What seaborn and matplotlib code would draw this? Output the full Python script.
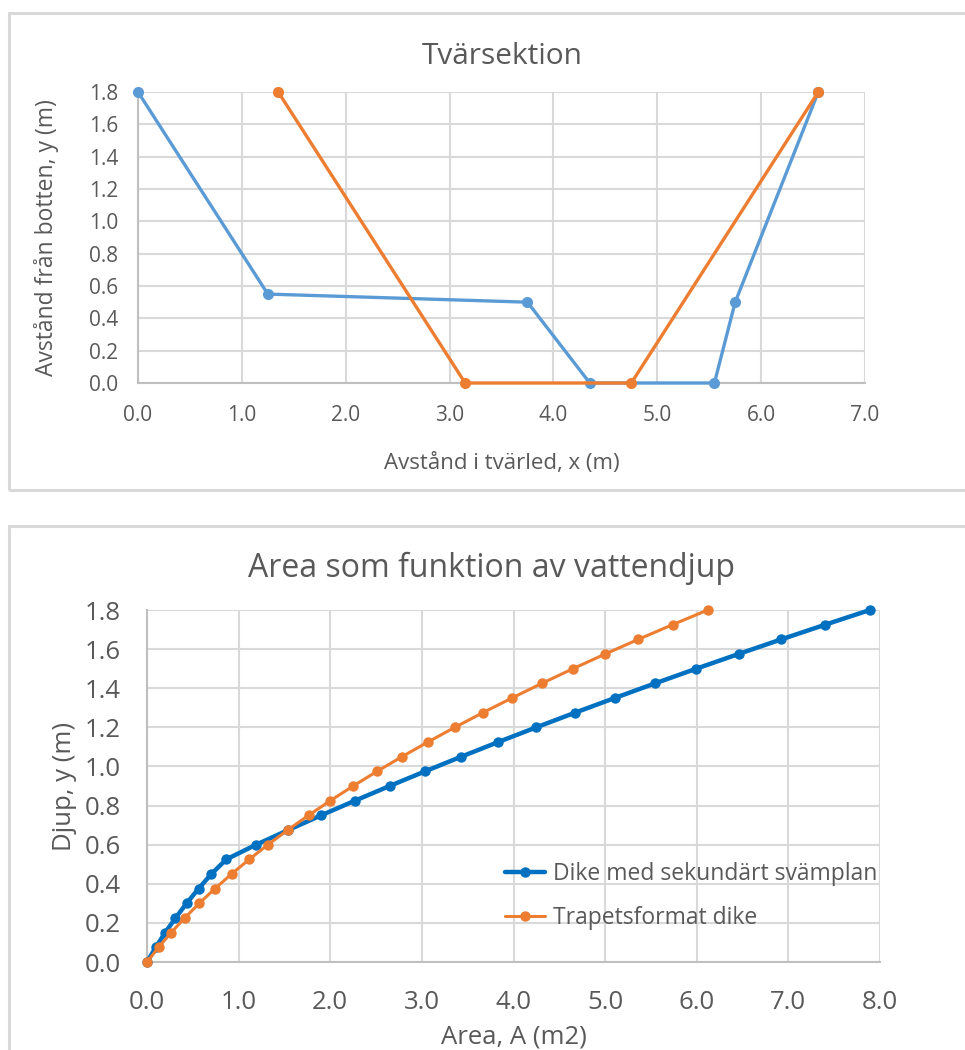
import matplotlib
matplotlib.use("Agg")
import matplotlib.pyplot as plt
from matplotlib.patches import Rectangle
import seaborn as sns
import pandas as pd

# Cross-section geometry (x = horizontal distance, y = height above bottom), metres
dike_x = [0.0, 1.25, 3.75, 4.35, 5.55, 5.75, 6.55]
dike_y = [1.8, 0.55, 0.50, 0.0, 0.0, 0.50, 1.8]
trap_x = [1.35, 3.15, 4.75, 6.55]
trap_y = [1.8, 0.0, 0.0, 1.8]

# Flow area vs. water depth
depth = [0.0, 0.075, 0.15, 0.225, 0.3, 0.375, 0.45, 0.525, 0.6, 0.675,
         0.75, 0.825, 0.9, 0.975, 1.05, 1.125, 1.2, 1.275, 1.35, 1.425,
         1.5, 1.575, 1.65, 1.725, 1.8]
area_dike = [0.0, 0.095, 0.198, 0.311, 0.432, 0.563, 0.702, 0.866, 1.192, 1.542,
             1.901, 2.270, 2.648, 3.035, 3.430, 3.835, 4.249, 4.672, 5.105, 5.546,
             5.996, 6.456, 6.924, 7.402, 7.889]
area_trap = [0.0, 0.126, 0.263, 0.411, 0.570, 0.741, 0.923, 1.116, 1.320, 1.536,
             1.763, 2.001, 2.250, 2.511, 2.783, 3.066, 3.360, 3.666, 3.983, 4.311,
             4.650, 5.001, 5.363, 5.736, 6.120]

label_dike = "Dike med sekundärt svämplan"
label_trap = "Trapetsformat dike"

x_ticks_top = [0.0, 1.0, 2.0, 3.0, 4.0, 5.0, 6.0, 7.0]
y_ticks = [0.0, 0.2, 0.4, 0.6, 0.8, 1.0, 1.2, 1.4, 1.6, 1.8]
x_ticks_bottom = [0.0, 1.0, 2.0, 3.0, 4.0, 5.0, 6.0, 7.0, 8.0]

sns.set_theme(style="white")
plt.rcParams["font.family"] = ["Open Sans", "DejaVu Sans"]

TEXT = "#595959"
GRID = "#D9D9D9"
AXIS = "#BFBFBF"
BLUE_LIGHT = "#5B9BD5"
BLUE = "#0070C0"
ORANGE = "#ED7D31"

W, H = 965, 1050
fig = plt.figure(figsize=(W / 100, H / 100), dpi=100)
fig.patch.set_facecolor("white")


def px_axes(left, top, right, bottom):
    return fig.add_axes([left / W, 1 - bottom / H, (right - left) / W, (bottom - top) / H])


def frame(left, top, right, bottom):
    fig.patches.append(Rectangle((left / W, 1 - bottom / H), (right - left) / W,
                                 (bottom - top) / H, transform=fig.transFigure,
                                 fill=False, edgecolor="#D9D9D9", linewidth=2.2,
                                 zorder=0))


def style_axes(ax, xticks, yticks, xlim, ylim, tick_size, xpad, ypad):
    ax.set_xlim(*xlim)
    ax.set_ylim(*ylim)
    ax.set_xticks(xticks)
    ax.set_yticks(yticks)
    ax.set_xticklabels([f"{v:.1f}" for v in xticks])
    ax.set_yticklabels([f"{v:.1f}" for v in yticks])
    ax.grid(True, color=GRID, linewidth=1.5, zorder=0)
    ax.set_axisbelow(True)
    for side in ("top", "right"):
        ax.spines[side].set_visible(False)
    ax.spines["left"].set_color(AXIS)
    ax.spines["bottom"].set_color(AXIS)
    ax.spines["left"].set_linewidth(1.5)
    ax.spines["bottom"].set_linewidth(1.5)
    ax.tick_params(axis="both", length=0, labelsize=tick_size, colors=TEXT)
    ax.tick_params(axis="x", pad=xpad)
    ax.tick_params(axis="y", pad=ypad)
    ax.set_facecolor("white")


# ---- Cross section panel ----
frame(9, 13, 975, 490)
ax1 = px_axes(138, 92, 865, 383)
df_dike = pd.DataFrame({"x": dike_x, "y": dike_y})
df_trap = pd.DataFrame({"x": trap_x, "y": trap_y})
sns.lineplot(data=df_dike, x="x", y="y", sort=False, estimator=None, ax=ax1,
             color=BLUE_LIGHT, linewidth=2.4, marker="o", markersize=8,
             markeredgewidth=0, clip_on=False, zorder=3)
sns.lineplot(data=df_trap, x="x", y="y", sort=False, estimator=None, ax=ax1,
             color=ORANGE, linewidth=2.4, marker="o", markersize=8,
             markeredgewidth=0, clip_on=False, zorder=4)
style_axes(ax1, x_ticks_top, y_ticks, (0, 7), (0, 1.8), 15, 16, 14)
ax1.set_xlabel("Avstånd i tvärled, x (m)", fontsize=16, color=TEXT, labelpad=19)
ax1.set_ylabel("Avstånd från botten, y (m)", fontsize=16.5, color=TEXT, labelpad=22)
fig.text(502 / W, 1 - 57 / H, "Tvärsektion", ha="center", va="center",
         fontsize=21.5, color=TEXT)

# ---- Area vs depth panel ----
frame(9, 526, 975, 1070)
ax2 = px_axes(147, 610, 880, 962)
df_area = pd.DataFrame({
    "area": area_dike + area_trap,
    "depth": depth + depth,
    "series": [label_dike] * len(depth) + [label_trap] * len(depth),
})
sns.lineplot(data=df_area[df_area.series == label_dike], x="area", y="depth",
             sort=False, estimator=None, ax=ax2, color=BLUE, linewidth=3.2,
             marker="o", markersize=7.5, markeredgewidth=0, clip_on=False,
             label=label_dike, zorder=3)
sns.lineplot(data=df_area[df_area.series == label_trap], x="area", y="depth",
             sort=False, estimator=None, ax=ax2, color=ORANGE, linewidth=2.2,
             marker="o", markersize=7.5, markeredgewidth=0, clip_on=False,
             label=label_trap, zorder=4)
style_axes(ax2, x_ticks_bottom, y_ticks, (0, 8), (0, 1.8), 18.5, 20, 19)
ax2.set_xlabel("Area, A (m2)", fontsize=18.5, color=TEXT, labelpad=7)
ax2.set_ylabel("Djup, y (m)", fontsize=18.5, color=TEXT, labelpad=5)
fig.text(492 / W, 1 - 568 / H, "Area som funktion av vattendjup", ha="center",
         va="center", fontsize=23, color=TEXT)
leg = ax2.legend(loc="center left",
                 bbox_to_anchor=((505 - 147) / (880 - 147), (962 - 896) / (962 - 610)),
                 frameon=False, fontsize=16.5, handlelength=1.75, handletextpad=0.35,
                 labelspacing=0.85, borderaxespad=0, borderpad=0)
for t in leg.get_texts():
    t.set_color(TEXT)

fig.savefig("out.png", dpi=100, facecolor="white")
